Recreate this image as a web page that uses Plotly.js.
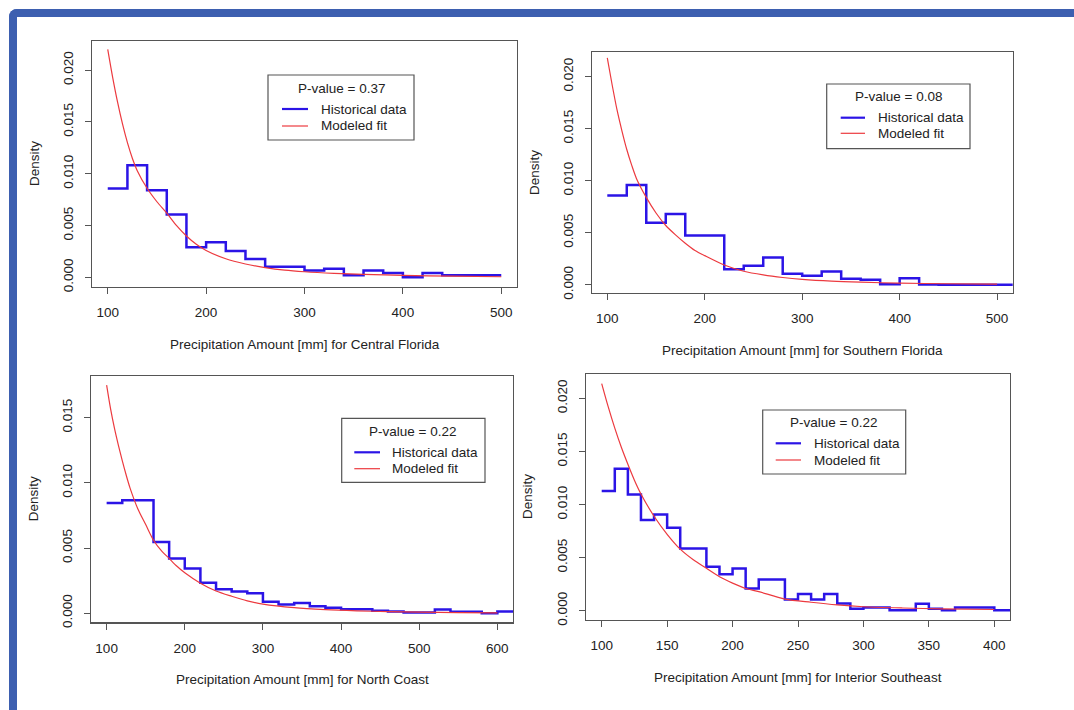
<!DOCTYPE html>
<html>
<head>
<meta charset="utf-8">
<script src="https://cdn.plot.ly/plotly-3.0.1.min.js"></script>
<style>
  html, body { margin:0; padding:0; background:#ffffff; }
  #chart { position:absolute; left:0; top:0; width:1074px; height:710px; }
  #frame { position:absolute; left:9px; top:9px; width:1065px; height:701px; box-sizing:border-box;
           border-top:8px solid #3d5fb0; border-left:8px solid #3d5fb0; border-top-left-radius:8px;
           pointer-events:none; }
</style>
</head>
<body>
<div id="chart"></div>
<div id="frame"></div>
<script>
// ---------------- DATA ----------------
const regions = ["Central Florida", "Southern Florida", "North Coast", "Interior Southeast"];
const pValues = ["0.37", "0.08", "0.22", "0.22"];
const seriesNames = ["Historical data", "Modeled fit"];

// Central Florida
const cfEdges   = [100,120,140,160,180,200,220,240,260,280,300,320,340,360,380,400,420,440,500];
const cfDensity = [0.00857,0.01082,0.00841,0.00607,0.00292,0.00340,0.00254,0.00177,0.00103,0.00103,0.00067,0.00083,0.00022,0.00067,0.00042,0.00003,0.00042,0.00022];
const cfFitX = [100,105,110,115,120,125,130,140,150,160,170,180,190,200,220,240,260,280,300,330,360,400,450,500];
const cfFitY = [0.0220,0.0193,0.0169,0.0148,0.0130,0.0115,0.0103,0.0086,0.0073,0.0062,0.0050,0.0040,0.0032,0.0026,0.0018,0.0013,0.00095,0.0007,0.00055,0.0004,0.0003,0.0002,0.00012,0.00007];

// Southern Florida
const sfEdges   = [100,120,140,160,180,220,240,260,280,300,320,340,360,380,400,420,440,520];
const sfDensity = [0.00859,0.00960,0.00596,0.00680,0.00474,0.00150,0.00183,0.00263,0.00106,0.00087,0.00128,0.00058,0.00048,0.00006,0.00064,0.00004,0.0];
const sfFitX = [100,105,110,115,120,125,130,140,150,160,170,180,190,200,220,240,260,280,300,330,360,400,450,500];
const sfFitY = [0.0218,0.0192,0.0168,0.0148,0.0130,0.0115,0.0102,0.0084,0.0069,0.0057,0.0048,0.0040,0.0033,0.0028,0.0019,0.0013,0.00095,0.0007,0.00052,0.00035,0.00025,0.00016,0.0001,0.00006];

// North Coast
const ncEdges   = [100,120,160,180,200,220,240,260,280,300,320,340,360,380,400,420,440,460,480,500,520,540,560,580,600,620];
const ncDensity = [0.00846,0.00866,0.00547,0.00419,0.00342,0.00233,0.00184,0.00166,0.00153,0.00087,0.00066,0.00079,0.00054,0.00041,0.00031,0.00031,0.00018,0.00013,0.00005,0.00005,0.00028,0.0001,0.0001,0.0,0.00013];
const ncFitX = [100,105,110,115,120,125,130,140,150,160,170,180,190,200,220,240,260,280,300,340,380,420,460,500,550,600];
const ncFitY = [0.0175,0.0157,0.0142,0.0129,0.0117,0.0106,0.0096,0.0080,0.0068,0.0056,0.0048,0.0042,0.0036,0.0031,0.0023,0.0017,0.0013,0.00095,0.0007,0.00042,0.00027,0.00018,0.00012,0.00008,0.00005,0.00003];

// Interior Southeast
const isEdges   = [100,110,120,130,140,150,160,180,190,200,210,220,240,250,260,270,280,290,300,320,340,350,360,370,400,420];
const isDensity = [0.01127,0.01338,0.01096,0.00854,0.00907,0.00782,0.00587,0.00414,0.00345,0.00399,0.00210,0.00295,0.00107,0.00157,0.00107,0.00157,0.00069,0.00019,0.00031,0.00006,0.00066,0.00019,0.00006,0.00031,0.00006];
const isFitX = [100,105,110,115,120,125,130,140,150,160,170,180,190,200,210,220,240,260,280,300,330,360,400];
const isFitY = [0.0214,0.0192,0.0172,0.0154,0.0138,0.0123,0.0110,0.0089,0.0072,0.0058,0.0048,0.0040,0.0032,0.0026,0.0021,0.0018,0.0011,0.0008,0.00055,0.00038,0.00026,0.00018,0.00012];

// Tick labels
const xTicksA  = [100,200,300,400,500];
const xTicksNC = [100,200,300,400,500,600];
const xTicksIS = [100,150,200,250,300,350,400];
const yTicksA  = [0,0.005,0.010,0.015,0.020];
const yTicksNC = [0,0.005,0.010,0.015];

// ---------------- LAYOUT ----------------
const W = 1074, H = 710;
const px = x => x / W;
const py = y => 1 - y / H;
const FONT = "Liberation Sans, Arial, sans-serif";
const FS = 13.5;
const TXT = "#222222";
const BOXC = "#555555";
const BLUE = "#2b14e6";
const RED = "#ec3a3f";

const panels = [
  {edges: cfEdges, dens: cfDensity, fx: cfFitX, fy: cfFitY, xt: xTicksA, yt: yTicksA,
   box: {l:92, r:517, t:41, b:287}, xr:[84,516], yr:[-0.00092,0.0228],
   leg: {l:268, r:414, t:75, b:140, tx:341.3, ty:88.3, i1:109, i2:126, s0:282, s1:308, tl:320}},
  {edges: sfEdges, dens: sfDensity, fx: sfFitX, fy: sfFitY, xt: xTicksA, yt: yTicksA,
   box: {l:591.7, r:1012.7, t:51.7, b:292.7}, xr:[84,516], yr:[-0.00076,0.0224],
   leg: {l:826.7, r:970, t:84, b:148.7, tx:898.3, ty:96, i1:117.7, i2:133.3, s0:840.7, s1:865, tl:877.3}},
  {edges: ncEdges, dens: ncDensity, fx: ncFitX, fy: ncFitY, xt: xTicksNC, yt: yTicksNC,
   box: {l:91, r:513, t:376, b:622.3}, xr:[80,620], yr:[-0.0007,0.0182],
   leg: {l:341.7, r:485, t:418.3, b:482.3, tx:412.7, ty:431, i1:452.3, i2:468.7, s0:354.3, s1:380, tl:391}},
  {edges: isEdges, dens: isDensity, fx: isFitX, fy: isFitY, xt: xTicksIS, yt: yTicksA,
   box: {l:586, r:1010, t:374, b:620}, xr:[88,412], yr:[-0.00087,0.0223],
   leg: {l:762.7, r:905.7, t:410, b:474, tx:833.7, ty:422.7, i1:443.3, i2:460, s0:775.7, s1:801, tl:812.7}}
];

const traces = [];
const layout = {
  width: W, height: H,
  margin: {l:0, r:0, t:0, b:0},
  paper_bgcolor: "#ffffff", plot_bgcolor: "#ffffff",
  font: {family: FONT, size: FS, color: TXT},
  showlegend: false,
  shapes: [], annotations: []
};
const tf = {family: FONT, size: FS, color: TXT};

panels.forEach((p, i) => {
  const n = i === 0 ? "" : String(i + 1);
  const xa = "x" + n, ya = "y" + n;
  traces.push({
    type: "scatter", mode: "lines", xaxis: xa, yaxis: ya,
    x: p.edges, y: p.dens.concat([p.dens[p.dens.length - 1]]),
    line: {shape: "hv", color: BLUE, width: 2.5},
    name: seriesNames[0], hoverinfo: "x+y"
  });
  traces.push({
    type: "scatter", mode: "lines", xaxis: xa, yaxis: ya,
    x: p.fx, y: p.fy,
    line: {shape: "spline", smoothing: 0.8, color: RED, width: 1.2},
    name: seriesNames[1], hoverinfo: "x+y"
  });
  const b = p.box;
  layout["xaxis" + n] = {
    domain: [px(b.l), px(b.r)], anchor: ya, range: p.xr,
    tickvals: p.xt, ticktext: p.xt.map(String),
    showline: true, mirror: true, linecolor: BOXC, linewidth: 1.2,
    ticks: "outside", ticklen: 6, tickcolor: BOXC, tickwidth: 1,
    showgrid: false, zeroline: false, ticklabelstandoff: 7,
    tickfont: tf
  };
  layout["yaxis" + n] = {
    domain: [py(b.b), py(b.t)], anchor: xa, range: p.yr,
    tickvals: p.yt, ticktext: p.yt.map(v => v.toFixed(3)),
    showline: true, mirror: true, linecolor: BOXC, linewidth: 1.2,
    ticks: "outside", ticklen: 6, tickcolor: BOXC, tickwidth: 1,
    showgrid: false, zeroline: false, tickangle: -90, ticklabelstandoff: 6,
    tickfont: tf
  };
  // legend box (drawn like R's legend())
  const L = p.leg;
  layout.shapes.push({type: "rect", xref: "paper", yref: "paper",
    x0: px(L.l), x1: px(L.r), y0: py(L.b), y1: py(L.t),
    line: {color: BOXC, width: 1.2}, fillcolor: "#ffffff", layer: "above"});
  layout.shapes.push({type: "line", xref: "paper", yref: "paper",
    x0: px(L.s0), x1: px(L.s1), y0: py(L.i1), y1: py(L.i1),
    line: {color: BLUE, width: 2.2}, layer: "above"});
  layout.shapes.push({type: "line", xref: "paper", yref: "paper",
    x0: px(L.s0), x1: px(L.s1), y0: py(L.i2), y1: py(L.i2),
    line: {color: RED, width: 1.2}, layer: "above"});
  layout.annotations.push({xref: "paper", yref: "paper", showarrow: false,
    x: px(L.tx), y: py(L.ty), xanchor: "center", yanchor: "middle",
    text: "P-value = " + pValues[i], font: tf});
  layout.annotations.push({xref: "paper", yref: "paper", showarrow: false,
    x: px(L.tl - 1), y: py(L.i1), xanchor: "left", yanchor: "middle",
    text: seriesNames[0], font: tf});
  layout.annotations.push({xref: "paper", yref: "paper", showarrow: false,
    x: px(L.tl - 1), y: py(L.i2), xanchor: "left", yanchor: "middle",
    text: seriesNames[1], font: tf});
  // axis titles
  layout.annotations.push({xref: "paper", yref: "paper", showarrow: false,
    x: px((b.l + b.r) / 2), y: py(b.b + 57.5), xanchor: "center", yanchor: "middle",
    text: "Precipitation Amount [mm] for " + regions[i], font: tf});
  layout.annotations.push({xref: "paper", yref: "paper", showarrow: false,
    x: px(b.l - 58), y: py((b.t + b.b) / 2), xanchor: "center", yanchor: "middle", textangle: -90,
    text: "Density", font: tf});
});

Plotly.newPlot("chart", traces, layout, {displayModeBar: false, staticPlot: true});
</script>
</body>
</html>
